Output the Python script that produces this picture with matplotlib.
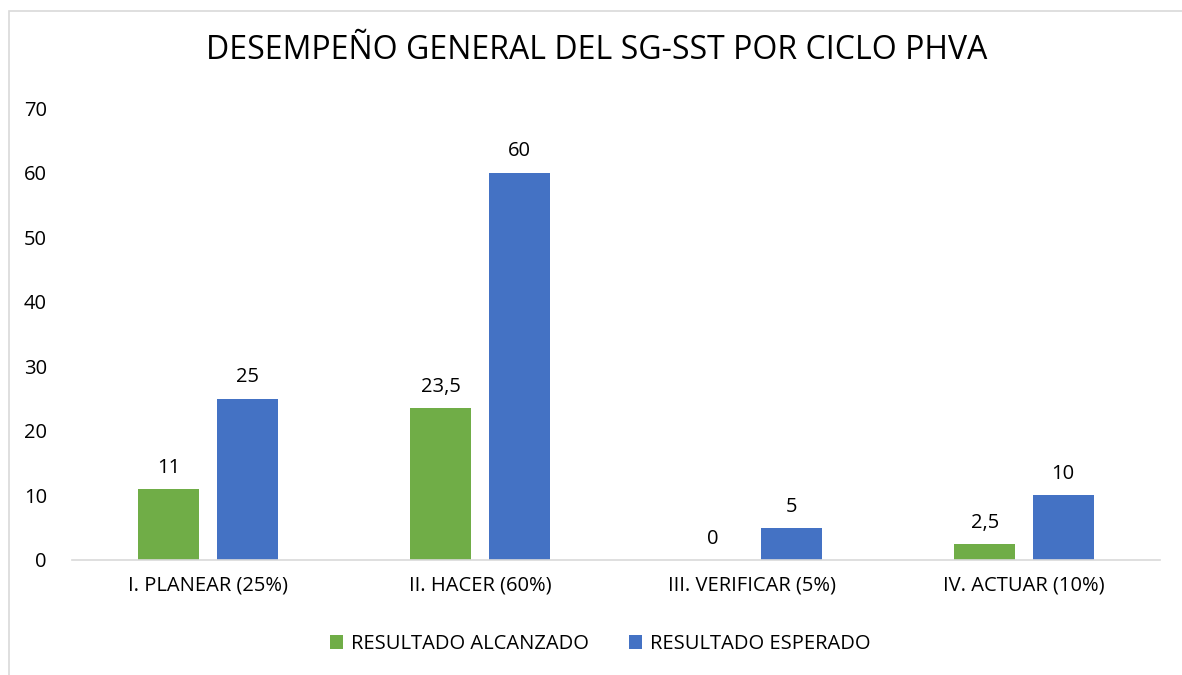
import numpy as np
import matplotlib.pyplot as plt
from matplotlib.patches import Rectangle

categorias = ['I. PLANEAR (25%)', 'II. HACER (60%)', 'III. VERIFICAR (5%)', 'IV. ACTUAR (10%)']
alcanzado = [11, 23.5, 0, 2.5]
esperado = [25, 60, 5, 10]
etiquetas_alcanzado = ['11', '23,5', '0', '2,5']
etiquetas_esperado = ['25', '60', '5', '10']

plt.rcParams['font.family'] = ['Open Sans', 'DejaVu Sans']

verde = '#70AD47'
azul = '#4472C4'
fs = 14.5

fig = plt.figure(figsize=(11.82, 6.75), dpi=100)
ax = fig.add_axes([0.0609, 0.1704, 0.9205, 0.6696])

x = np.arange(len(categorias))
w = 0.224
off = 0.144
b1 = ax.bar(x - off, alcanzado, w, color=verde, label='RESULTADO ALCANZADO')
b2 = ax.bar(x + off, esperado, w, color=azul, label='RESULTADO ESPERADO')

for rects, labs in [(b1, etiquetas_alcanzado), (b2, etiquetas_esperado)]:
    for r, t in zip(rects, labs):
        ax.annotate(t, (r.get_x() + r.get_width() / 2, r.get_height()),
                    xytext=(0, 8), textcoords='offset points',
                    ha='center', va='bottom', fontsize=fs, color='#000000')

ax.set_xlim(-0.5, 3.5)
ax.set_ylim(0, 70)
ax.set_yticks(range(0, 71, 10))
ax.set_xticks(x)
ax.set_xticklabels(categorias, fontsize=fs)
ax.tick_params(axis='y', labelsize=fs, length=0, pad=18)
ax.tick_params(axis='x', length=0, pad=11)
for s in ['top', 'right', 'left']:
    ax.spines[s].set_visible(False)
ax.spines['bottom'].set_color('#D9D9D9')
ax.spines['bottom'].set_linewidth(1.2)

fig.text(0.505, 0.925, 'DESEMPEÑO GENERAL DEL SG-SST POR CICLO PHVA',
         ha='center', va='center', fontsize=23)

fig.legend(loc='center', bbox_to_anchor=(0.508, 0.046), ncol=2, frameon=False,
           fontsize=fs, handlelength=0.65, handleheight=0.65, columnspacing=2.0,
           handletextpad=0.4)

fig.patches.append(Rectangle((9 / 1182, -0.1), 1.2, 1 - 11 / 675 + 0.1,
                             transform=fig.transFigure, fill=False,
                             edgecolor='#D9D9D9', linewidth=1.2))

fig.savefig('out.png', dpi=100)
